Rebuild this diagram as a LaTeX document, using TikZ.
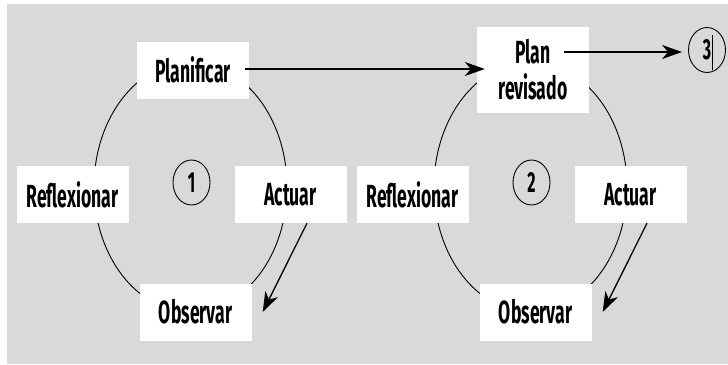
\documentclass[tikz,border=0pt]{standalone}
\usepackage{fontspec}
\setmainfont{Fira Sans}[FakeStretch=0.55]
\usetikzlibrary{arrows.meta,shapes.geometric}
\definecolor{bggray}{HTML}{D9D9D9}
\tikzset{
  stage/.style={fill=white, minimum width=112pt, minimum height=57pt, inner sep=0pt,
    align=center, font=\bfseries\fontsize{32}{36}\selectfont},
  cyclepath/.style={draw, ellipse, line width=0.9pt, minimum width=193pt,
    minimum height=250pt, inner sep=0pt},
  numcirc/.style={draw, ellipse, line width=0.9pt, minimum width=37pt,
    minimum height=45pt, inner sep=0pt, font=\bfseries\fontsize{29}{30}\selectfont},
  flow/.style={line width=1.3pt, -{Stealth[length=20pt,width=14pt,inset=6pt]}}
}
\begin{document}
\begin{tikzpicture}[x=1pt,y=-1pt]
\useasboundingbox (0,0) rectangle (728,364);
\fill[bggray] (7,4) rectangle (728,364);
% first cycle
\node[cyclepath] (cycA) at (190.5,187) {};
\node[stage] (plan) at (193,70) {Planificar};
\node[stage] (refA) at (72.5,194.5) {Reflexionar};
\node[stage] (actA) at (290.5,194.5) {Actuar};
\node[stage] (obsA) at (195.5,312) {Observar};
\node[numcirc] (one) at (191.5,182.5) {1};
% second cycle
\node[cyclepath] (cycB) at (530.5,187) {};
\node[stage, minimum height=86pt] (rev) at (533,70) {Plan\\revisado};
\node[stage] (refB) at (412.5,194.5) {Reflexionar};
\node[stage] (actB) at (630.5,194.5) {Actuar};
\node[stage] (obsB) at (535.5,312) {Observar};
\node[numcirc] (two) at (531.5,182.5) {2};
\node[numcirc] (three) at (707,50) {3};
\draw[line width=0.8pt] ([xshift=5pt,yshift=15pt]three.center) -- ([xshift=5pt,yshift=-20pt]three.center);
% arrows
\draw[flow] ([xshift=-4pt,yshift=1pt]plan.east) -- ([xshift=8pt,yshift=1pt]rev.west);
\draw[flow] ([xshift=-25pt,yshift=18pt]rev.east) -- ([xshift=-6pt,yshift=-2pt]three.west);
\draw[flow] ([xshift=16.5pt]actA.south) -- ([xshift=11pt]obsA.east);
\draw[flow] ([xshift=16.5pt]actB.south) -- ([xshift=11pt]obsB.east);
\end{tikzpicture}
\end{document}
